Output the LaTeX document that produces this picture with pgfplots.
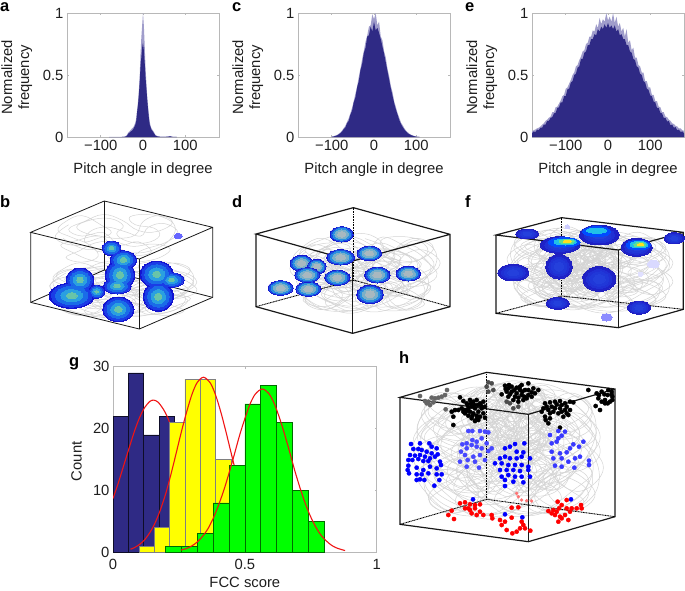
\documentclass[border=0pt]{standalone}
\usepackage{pgfplots}
\usepackage{pgfplotstable}
\usepackage{fontspec}
\setmainfont{Liberation Sans}
\pgfplotsset{compat=1.18}
\usetikzlibrary{plotmarks}
\definecolor{hdark}{HTML}{2F2A85}
\definecolor{hlight}{HTML}{A09DCB}
\definecolor{boxgray}{HTML}{B8B8B8}
\definecolor{txt}{HTML}{1E1E1E}
\definecolor{walkgray}{HTML}{D4D4D4}
\definecolor{redfit}{HTML}{F01414}
\definecolor{pureyellow}{HTML}{FFFF00}
\definecolor{puregreen}{HTML}{00FF00}
\definecolor{hotC}{HTML}{20C0E8}
\definecolor{hotG}{HTML}{60E090}
\definecolor{hotY}{HTML}{FFE020}
\newcommand\fs{\fontsize{14.8}{17}\selectfont}
\pgfplotsset{
  hist/.style={scale only axis,width=152pt,height=124pt,anchor=north west,
    xmin=-180,xmax=180,ymin=0,ymax=1,
    xtick={-100,0,100},xticklabels={−100,0,100},
    ytick={0,0.5,1},yticklabels={0,0.5,1},
    axis line style={boxgray,line width=0.9pt},
    tick style={boxgray,line width=0.6pt},tick align=inside,major tick length=2pt,
    tick label style={font=\fs,text=txt},label style={font=\fs,text=txt},
    xlabel={Pitch angle in degree},
    ylabel={Normalized\\frequency},
    ylabel style={align=center,at={(axis description cs:-0.33,0.48)},anchor=center,rotate=0},
    xlabel style={at={(axis description cs:0.5,-0.265)},anchor=center}},
  canvas/.style={hide axis,scale only axis,anchor=north west,clip=false,y dir=reverse},
  walkline/.style={walkgray,line width=0.5pt,smooth,tension=0.7,no markers},
  cube/.style={black!90,line width=#1,no markers},
  backedge/.style={black,line width=0.9pt,dash pattern=on 1pt off 0.6pt,no markers},
  dots/.style={only marks,mark=*,mark size=2.1pt}
}
% one spot, size given in zoomed pixels (3 per point)
\newcommand\spot[6]{\addplot[only marks,mark=*,mark size=0.3333pt,
  mark options={draw=#6,line width=0pt,fill=#6,xscale=#3,yscale=#4,rotate=#5}] coordinates {(#1,#2)};}
\newcommand\blob[5]{%
  \spot{#1}{#2}{#3}{#4}{#5}{bA}%
  \spot{#1}{#2}{0.9*#3}{0.9*#4}{#5}{bB}%
  \spot{#1}{#2}{0.76*#3}{0.76*#4}{#5}{bC}%
  \spot{#1}{#2}{0.58*#3}{0.58*#4}{#5}{bD}%
  \spot{#1}{#2}{0.36*#3}{0.36*#4}{#5}{bE}}
% all of panel b's lobes at one size, so that they merge
\newcommand\bLayer[2]{%
  \spot{240}{300}{#1*42}{#1*36}{0}{#2}%
  \spot{215}{347}{#1*68}{#1*38}{-5}{#2}%
  \spot{290}{335}{#1*24}{#1*20}{0}{#2}%
  \spot{355}{388}{#1*47}{#1*37}{0}{#2}%
  \spot{335}{205}{#1*28}{#1*22}{-20}{#2}%
  \spot{370}{240}{#1*40}{#1*28}{-25}{#2}%
  \spot{360}{285}{#1*44}{#1*45}{0}{#2}%
  \spot{352}{318}{#1*42}{#1*24}{0}{#2}%
  \spot{470}{283}{#1*50}{#1*40}{0}{#2}%
  \spot{515}{300}{#1*38}{#1*22}{0}{#2}%
  \spot{475}{350}{#1*45}{#1*44}{0}{#2}}
\newcommand\walk[6]{\addplot[walkline] table[x expr={#1+#3*(#5)},y expr={#2+#4*(#6)}]{\walkdata};}
\newcommand\lab[3]{\node[anchor=base west,inner sep=0pt,font=\fontsize{16.5}{18}\selectfont\bfseries] at (#1pt,-#2pt) {#3};}

\pgfplotstableread[row sep=\\]{u v\\
.10 .50\\.18 .62\\.30 .70\\.42 .62\\.40 .48\\.28 .42\\.20 .30\\.30 .18\\.45 .15\\.55 .28\\.50 .42\\.58 .55\\.72 .58\\.82 .46\\.78 .32\\.64 .26\\.60 .12\\.74 .08\\.88 .16\\.94 .32\\.90 .52\\.80 .68\\.66 .76\\.52 .72\\.44 .84\\.56 .92\\.72 .90\\.84 .82\\.90 .68\\.78 .60\\.62 .64\\.48 .56\\.34 .58\\.22 .72\\.12 .84\\.24 .92\\.36 .82\\.30 .62\\.16 .48\\.06 .36\\.12 .20\\.24 .10\\.38 .26\\.46 .40\\.36 .50\\.26 .56\\.30 .38\\.42 .30\\.56 .38\\.68 .46\\.74 .30\\.86 .24\\.96 .40\\.86 .58\\.70 .70\\.60 .84\\.46 .94\\.30 .88\\.18 .76\\.08 .62\\.20 .54\\.34 .46\\.50 .50\\.64 .44\\.70 .20\\.82 .10\\.92 .22\\.80 .38\\.66 .36\\.54 .18\\.40 .08\\.26 .20\\.14 .34\\.24 .46\\.40 .40\\.52 .62\\.66 .56\\.76 .74\\.62 .80\\.50 .66\\.38 .74\\.28 .64\\.12 .60\\.04 .46\\.14 .26\\
}\walkdata

\pgfplotstableread[row sep=\\]{x d l\\
-80 0 .001\\-50 0 .002\\-44 .001 .004\\-40 .005 .01\\-38 .01 .016\\-36 .02 .03\\-34 .03 .04\\-32 .035 .045\\-30 .04 .055\\-28 .05 .06\\-26 .05 .07\\-24 .06 .075\\-22 .07 .085\\-20 .085 .10\\-18 .10 .12\\-16 .13 .15\\-14 .20 .22\\-12 .25 .28\\-10 .33 .37\\-8 .43 .48\\-6 .56 .66\\-4 .64 .80\\-2 .72 .90\\0 .76 1\\2 .70 .90\\4 .60 .74\\6 .48 .56\\8 .39 .44\\10 .30 .33\\12 .22 .25\\14 .15 .18\\16 .10 .12\\18 .08 .09\\20 .06 .07\\22 .05 .06\\24 .04 .05\\26 .03 .04\\28 .02 .025\\30 .01 .015\\34 .005 .008\\40 .002 .003\\50 .001 .002\\60 .003 .004\\64 .006 .008\\70 .001 .002\\80 0 .001\\
}\ha

\pgfplotstableread[row sep=\\]{x d l\\
-100 .002 .004\\-96 .004 .006\\-92 .008 .011\\-88 .012 .016\\-84 .02 .025\\-80 .03 .036\\-76 .042 .05\\-72 .062 .07\\-68 .075 .09\\-64 .11 .12\\-60 .13 .15\\-56 .18 .19\\-52 .21 .235\\-48 .28 .29\\-44 .32 .35\\-40 .40 .41\\-36 .45 .485\\-32 .54 .555\\-28 .59 .63\\-24 .68 .695\\-20 .72 .77\\-16 .81 .82\\-12 .82 .89\\-8 .89 .90\\-4 .85 .99\\0 .93 .95\\4 .86 1\\8 .88 .90\\12 .84 .93\\16 .79 .81\\20 .73 .78\\24 .67 .69\\28 .60 .64\\32 .53 .55\\36 .46 .49\\40 .39 .41\\44 .33 .36\\48 .27 .285\\52 .22 .24\\56 .18 .19\\60 .135 .155\\64 .105 .115\\68 .08 .095\\72 .06 .07\\76 .045 .05\\80 .03 .038\\84 .022 .026\\88 .015 .018\\92 .01 .012\\96 .006 .008\\100 .002 .005\\104 .001 .003\\108 0 .001\\
}\hc

\pgfplotstableread[row sep=\\]{x d l\\
-180 .03 .045\\-176 .045 .055\\-172 .04 .06\\-168 .06 .07\\-164 .055 .075\\-160 .075 .085\\-156 .075 .10\\-152 .10 .11\\-148 .10 .13\\-144 .13 .14\\-140 .13 .155\\-136 .155 .165\\-132 .16 .20\\-128 .19 .20\\-124 .195 .24\\-120 .235 .245\\-116 .24 .27\\-112 .28 .295\\-108 .28 .33\\-104 .33 .34\\-100 .33 .39\\-96 .385 .40\\-92 .39 .43\\-88 .44 .46\\-84 .45 .50\\-80 .50 .52\\-76 .51 .57\\-72 .56 .58\\-68 .57 .62\\-64 .63 .65\\-60 .63 .69\\-56 .68 .70\\-52 .69 .75\\-48 .74 .76\\-44 .74 .81\\-40 .79 .81\\-36 .79 .86\\-32 .83 .85\\-28 .82 .91\\-24 .87 .88\\-20 .85 .96\\-16 .89 .91\\-12 .87 .95\\-8 .91 .93\\-4 .88 1\\0 .92 .94\\4 .88 .97\\8 .90 .93\\12 .87 1\\16 .90 .92\\20 .85 .97\\24 .87 .89\\28 .82 .92\\32 .83 .85\\36 .79 .88\\40 .79 .81\\44 .74 .87\\48 .74 .76\\52 .69 .78\\56 .68 .70\\60 .63 .72\\64 .62 .64\\68 .57 .64\\72 .56 .58\\76 .51 .57\\80 .50 .52\\84 .45 .52\\88 .44 .45\\92 .39 .45\\96 .38 .40\\100 .335 .40\\104 .33 .34\\108 .285 .34\\112 .28 .29\\116 .235 .29\\120 .235 .245\\124 .195 .24\\128 .19 .20\\132 .155 .20\\136 .155 .165\\140 .125 .16\\144 .13 .14\\148 .095 .13\\152 .10 .11\\156 .075 .105\\160 .08 .09\\164 .055 .085\\168 .06 .07\\172 .04 .07\\176 .045 .055\\180 .03 .05\\
}\he

\begin{document}
\begin{tikzpicture}
\path[use as bounding box] (0pt,0pt) rectangle (685pt,-590pt);

% histograms a, c, e
\begin{axis}[hist,at={(67pt,-13pt)}]
\addplot[fill=hlight,draw=none] table[x=x,y=l]{\ha}\closedcycle;
\addplot[fill=hdark,draw=none] table[x=x,y=d]{\ha}\closedcycle;
\end{axis}
\begin{axis}[hist,at={(298pt,-13pt)}]
\addplot[fill=hlight,draw=none] table[x=x,y=l]{\hc}\closedcycle;
\addplot[fill=hdark,draw=none] table[x=x,y=d]{\hc}\closedcycle;
\end{axis}
\begin{axis}[hist,at={(532pt,-13pt)}]
\addplot[fill=hlight,draw=none] table[x=x,y=l]{\he}\closedcycle;
\addplot[fill=hdark,draw=none] table[x=x,y=d]{\he}\closedcycle;
\end{axis}

% panel b
\definecolor{bA}{HTML}{1414D0}\definecolor{bB}{HTML}{1A3CE6}\definecolor{bC}{HTML}{1A6CE8}\definecolor{bD}{HTML}{2AA0E0}\definecolor{bE}{HTML}{68C4A8}
\begin{axis}[canvas,at={(0pt,-180pt)},width=685pt,height=170pt,xmin=0,xmax=2055,ymin=0,ymax=510]
\walk{150}{90}{400}{170}{\thisrow{u}}{\thisrow{v}}
\walk{130}{230}{480}{190}{\thisrow{u}}{\thisrow{v}}
\walk{130}{250}{480}{170}{1-\thisrow{u}}{\thisrow{v}}
\walk{150}{260}{440}{160}{\thisrow{v}}{\thisrow{u}}
\addplot[cube=0.8pt] coordinates {(92,157)(92,367)(418,447)(638,352)(638,142)(313,63)(92,157)(418,237)(638,142)};
\addplot[cube=0.8pt] coordinates {(418,237)(418,447)};
\addplot[cube=0.8pt] coordinates {(92,367)(313,270)(638,352)};
\addplot[cube=0.8pt] coordinates {(313,63)(313,270)};
\bLayer{1}{bA}
\bLayer{0.9}{bB}
\bLayer{0.72}{bC}
\bLayer{0.48}{bD}
\bLayer{0.24}{bE}
\spot{535}{168}{12}{8}{0}{blue!60}
\addplot[cube=0.8pt] coordinates {(418,237)(418,447)};
\end{axis}

% panel d
\definecolor{bA}{HTML}{1818D0}\definecolor{bB}{HTML}{1A50E0}\definecolor{bC}{HTML}{2A90E0}\definecolor{bD}{HTML}{7AB0C8}\definecolor{bE}{HTML}{A8B8C0}
\begin{axis}[canvas,at={(0pt,-180pt)},width=685pt,height=170pt,xmin=0,xmax=2055,ymin=0,ymax=510]
\walk{850}{150}{490}{250}{\thisrow{u}}{\thisrow{v}}
\blob{842}{324}{38}{22}{0}
\blob{925}{327}{38}{22}{0}
\blob{905}{250}{35}{24}{0}
\blob{950}{260}{28}{22}{0}
\blob{922}{285}{38}{22}{0}
\blob{1012}{293}{38}{23}{0}
\blob{1025}{163}{35}{23}{0}
\blob{1022}{232}{42}{23}{0}
\blob{1108}{220}{37}{22}{0}
\blob{1132}{285}{38}{24}{0}
\blob{1225}{281}{37}{22}{0}
\blob{1110}{343}{40}{28}{0}
\walk{860}{170}{470}{240}{1-\thisrow{u}}{\thisrow{v}}
\walk{870}{150}{450}{260}{\thisrow{v}}{\thisrow{u}}
\walk{880}{190}{420}{220}{\thisrow{u}}{1-\thisrow{v}}
\walk{950}{200}{280}{150}{1-\thisrow{v}}{\thisrow{u}}
\addplot[cube=1.2pt] coordinates {(768,162)(768,380)(1058,460)(1350,380)(1350,163)(1060,83)(768,162)(1058,243)(1350,163)};
\addplot[cube=1.2pt] coordinates {(1058,243)(1058,460)};
\addplot[backedge] coordinates {(1060,83)(1060,300)};
\addplot[backedge] coordinates {(768,380)(1060,300)(1350,380)};
\end{axis}

% panel f
\definecolor{bA}{HTML}{2020C0}\definecolor{bB}{HTML}{1E22C8}\definecolor{bC}{HTML}{2030D4}\definecolor{bD}{HTML}{2038D8}\definecolor{bE}{HTML}{2440DC}
\begin{axis}[canvas,at={(340pt,-180pt)},width=345pt,height=170pt,xmin=0,xmax=1035,ymin=0,ymax=510]
\blob{520}{278}{47}{25}{5}
\blob{562}{162}{35}{15}{8}
\blob{657}{260}{40}{37}{0}
\blob{778}{297}{50}{37}{-10}
\blob{653}{370}{35}{18}{-5}
\blob{897}{383}{35}{20}{0}
\spot{800}{412}{17}{11}{0}{blue!45}
\spot{940}{252}{18}{12}{0}{blue!15}
\spot{902}{283}{8}{6}{0}{blue!12}
\spot{682}{140}{7}{6}{0}{blue!20}
\walk{490}{150}{530}{250}{\thisrow{u}}{\thisrow{v}}
\walk{480}{130}{530}{270}{1-\thisrow{u}}{\thisrow{v}}
\walk{490}{140}{520}{260}{\thisrow{v}}{\thisrow{u}}
\walk{490}{160}{530}{240}{\thisrow{u}}{1-\thisrow{v}}
\walk{480}{140}{520}{270}{1-\thisrow{v}}{\thisrow{u}}
\walk{560}{140}{300}{240}{1-\thisrow{u}}{1-\thisrow{v}}
\walk{560}{130}{300}{240}{\thisrow{v}}{1-\thisrow{u}}
\walk{600}{170}{240}{170}{\thisrow{u}}{\thisrow{v}}
\walk{610}{180}{230}{170}{1-\thisrow{v}}{1-\thisrow{u}}
\walk{620}{150}{210}{200}{1-\thisrow{u}}{\thisrow{v}}
\blob{778}{165}{60}{30}{3}
\spot{770}{155}{42}{15}{3}{blue!70!cyan}
\spot{770}{152}{30}{8}{3}{hotC}
\blob{660}{195}{60}{25}{0}
\spot{672}{187}{48}{14}{0}{blue!70!cyan}
\spot{676}{186}{34}{9}{0}{hotC}
\spot{680}{185}{22}{6}{0}{hotG}
\spot{682}{184}{13}{4}{0}{hotY}
\blob{890}{202}{47}{27}{-8}
\spot{895}{195}{36}{15}{-15}{blue!70!cyan}
\spot{897}{194}{27}{10}{-15}{hotC}
\spot{899}{194}{18}{7}{-15}{hotG}
\spot{902}{194}{10}{4}{-15}{hotY}
\blob{1003}{175}{30}{17}{-8}
\addplot[cube=1.2pt] coordinates {(468,165)(468,400)(835,443)(1030,388)(1030,157)(665,113)(468,165)(835,210)(1030,157)};
\addplot[cube=1.2pt] coordinates {(835,210)(835,443)};
\addplot[backedge] coordinates {(665,113)(665,348)};
\addplot[backedge] coordinates {(468,400)(665,348)(1030,388)};
\end{axis}

% panel g
\begin{axis}[scale only axis,anchor=north west,at={(113pt,-366.7pt)},width=263.7pt,height=185.6pt,
  xmin=0,xmax=1,ymin=0,ymax=30,
  xtick={0,0.5,1},xticklabels={0,0.5,1},ytick={0,10,20,30},yticklabels={0,10,20,30},
  axis line style={boxgray,line width=0.9pt},
  tick style={boxgray,line width=0.6pt},tick align=inside,major tick length=2pt,
  tick label style={font=\fs,text=txt},label style={font=\fs,text=txt},
  xticklabel style={yshift=-3pt},
  xlabel={FCC score},ylabel={Count},
  xlabel style={at={(axis description cs:0.5,-0.162)},anchor=center},
  ylabel style={at={(axis description cs:-0.138,0.49)},anchor=center}]
\addplot[ybar interval,fill=hdark,draw=black!70!hdark,line width=0.5pt] coordinates {(0,22)(.0582,29)(.1165,19)(.175,22)(.2335,0)};
\addplot[redfit,line width=1.1pt,smooth] coordinates {(0,8.7)(.02,11.2)(.04,13.95)(.06,16.7)(.08,19.4)(.10,21.7)(.12,23.4)(.14,24.4)(.154,24.6)(.17,24.3)(.19,23.2)(.21,21.5)(.23,19.1)(.25,16.5)(.27,13.7)(.30,9.6)};
\addplot[ybar interval,fill=pureyellow,draw=black!50,line width=0.5pt] coordinates {(.0987,1)(.1557,4)(.2139,21)(.2722,28)(.3304,28)(.3886,15)(.4468,0)};
\addplot[redfit,line width=1.1pt,smooth] coordinates {(.066,.5)(.08,.73)(.10,1.25)(.12,2.04)(.14,3.2)(.16,4.8)(.18,6.9)(.20,9.5)(.22,12.65)(.24,16.1)(.26,19.6)(.28,22.8)(.30,25.6)(.32,27.5)(.344,28.3)(.37,27.3)(.39,25.3)(.41,22.5)(.43,19.2)(.45,15.7)(.47,12.3)};
\addplot[ybar interval,fill=puregreen,draw=black!30!green!60!black,line width=0.5pt] coordinates {(.1975,1)(.2595,1)(.319,3)(.3797,8)(.4405,14)(.5,24)(.5595,27)(.6203,21)(.681,10)(.7405,5)(.8013,0)};
\addplot[redfit,line width=1.1pt,smooth] coordinates {(.257,.35)(.28,.64)(.30,1.06)(.32,1.69)(.34,2.6)(.36,3.8)(.38,5.5)(.40,7.6)(.42,10)(.44,12.8)(.46,15.8)(.48,18.9)(.50,21.6)(.52,24)(.54,25.6)(.566,26.4)(.59,25.7)(.61,24.2)(.63,21.9)(.65,19.2)(.67,16.2)(.69,13.1)(.71,10.3)(.73,7.8)(.75,5.7)(.77,4)(.79,2.7)(.81,1.8)(.83,1.1)(.85,.67)(.88,.28)};
\end{axis}

% panel h
\begin{axis}[canvas,at={(385pt,-345pt)},width=300pt,height=245pt,xmin=0,xmax=900,ymin=0,ymax=735]
\walk{60}{100}{610}{440}{\thisrow{u}}{\thisrow{v}}
\walk{60}{120}{610}{420}{1-\thisrow{u}}{\thisrow{v}}
\walk{70}{100}{600}{440}{\thisrow{v}}{\thisrow{u}}
\walk{60}{110}{620}{430}{\thisrow{u}}{1-\thisrow{v}}
\walk{70}{90}{600}{440}{1-\thisrow{v}}{\thisrow{u}}
\walk{220}{90}{330}{380}{1-\thisrow{u}}{1-\thisrow{v}}
\walk{220}{100}{320}{370}{\thisrow{v}}{1-\thisrow{u}}
\walk{260}{100}{240}{260}{\thisrow{u}}{\thisrow{v}}
\walk{270}{120}{230}{260}{1-\thisrow{v}}{1-\thisrow{u}}
\walk{110}{130}{500}{340}{1-\thisrow{u}}{1-\thisrow{v}}
\addplot[dots,fill=black!60,draw=black!60] coordinates {(105,153)(125,175)(135,180)(145,172)(140,158)(150,160)(160,158)(170,155)(180,150)(186,135)(182,193)(120,168)(130,170)};
\addplot[dots,black] coordinates {(225,157)(235,168)(245,175)(255,165)(265,170)(275,165)(285,175)(295,170)(300,185)(290,190)(280,200)(270,190)(260,185)(250,190)(240,195)(230,190)(220,195)(210,195)(200,200)(205,215)(205,240)(240,205)(250,212)(260,220)(270,228)(280,225)(285,215)(275,212)(265,205)(255,200)(300,218)(295,205)(248,180)(258,175)(268,180)(278,180)(288,182)(245,198)(275,222)(235,200)(262,212)};
\addplot[dots,black!70] coordinates {(310,112)(320,115)(305,125)(325,135)(310,140)(375,175)(385,190)(400,185)(365,170)};
\addplot[dots,black] coordinates {(360,122)(370,130)(380,125)(395,128)(410,120)(430,115)(445,130)(460,135)(450,145)(440,155)(425,160)(410,150)(395,145)(380,140)(365,140)(350,148)(370,155)(385,165)(400,170)(415,165)(430,150)(420,135)(405,135)(390,155)(375,148)(388,135)(400,158)(412,140)(430,135)(440,142)(362,132)(372,120)(405,125)(418,155)};
\addplot[dots,black] coordinates {(480,175)(495,172)(510,170)(525,168)(540,175)(555,170)(565,172)(555,195)(550,210)(535,215)(520,205)(505,200)(490,195)(475,190)(470,200)(480,215)(490,235)(495,220)(510,190)(525,190)(540,195)(500,185)(525,248)(515,178)(530,180)(545,185)(485,185)(495,205)(530,200)(545,205)(482,225)};
\addplot[dots,black] coordinates {(610,135)(635,145)(650,140)(670,135)(680,140)(682,155)(675,170)(660,175)(640,160)(632,183)(645,195)(660,165)(668,150)(642,150)(658,148)(680,148)(682,165)(668,175)(650,170)};
\addplot[dots,fill=blue,draw=blue] coordinates {(78,297)(105,295)(133,295)(140,305)(155,310)(85,312)(100,312)(110,315)(125,320)(140,325)(158,328)(75,330)(90,332)(105,330)(120,335)(135,340)(150,335)(70,345)(82,345)(100,342)(115,348)(130,348)(165,350)(70,362)(68,375)(72,385)(95,368)(115,375)(135,365)(155,370)(168,360)(95,388)(110,388)(130,385)(155,388)(170,388)(95,405)(105,403)(118,405)(163,405)(148,422)};
\addplot[dots,fill=blue!72,draw=blue!72] coordinates {(250,258)(262,258)(285,258)(300,260)(310,262)(232,298)(245,295)(262,285)(275,290)(290,280)(305,295)(320,310)(228,320)(245,310)(260,300)(275,305)(290,310)(310,318)(240,330)(225,350)(248,345)(265,335)(285,330)(300,345)(270,350)(245,365)(282,368)};
\addplot[dots,fill=blue,draw=blue] coordinates {(390,297)(418,295)(360,310)(375,305)(395,320)(415,322)(345,340)(360,335)(375,340)(395,340)(410,335)(435,340)(330,355)(350,355)(370,360)(390,360)(410,360)(430,365)(345,375)(365,375)(385,375)(405,378)(430,375)(350,395)(370,390)(390,395)(410,395)(435,395)(360,405)(385,410)(415,412)(360,423)};
\addplot[dots,fill=blue!78,draw=blue!78] coordinates {(520,258)(540,260)(495,270)(520,280)(530,272)(500,295)(515,290)(565,298)(595,290)(500,320)(525,325)(545,322)(555,310)(582,305)(505,340)(530,340)(550,350)(570,340)(585,335)(612,347)(612,360)(510,362)(530,365)(568,368)};
\addplot[dots,fill=blue,draw=blue] coordinates {(264,463)(360,508)(412,517)(558,463)};
\addplot[dots,fill=red,draw=red] coordinates {(225,475)(240,472)(255,478)(270,480)(285,478)(240,490)(255,495)(270,490)(285,500)(295,510)(275,510)(260,505)(250,490)(200,497)(190,510)(207,522)(320,510)(322,520)(345,525)(360,530)(380,518)(350,540)(365,555)(382,565)(395,560)(405,550)(415,540)(410,530)(420,550)(436,557)(380,488)(400,487)};
\addplot[dots,fill=red!55,draw=red!55,mark size=1.5pt] coordinates {(395,445)(400,455)(410,465)(425,467)(440,468)};
\addplot[dots,fill=red,draw=red] coordinates {(490,498)(505,495)(518,470)(522,490)(530,480)(545,465)(545,490)(560,490)(575,490)(588,480)(590,490)(510,510)(525,515)(540,510)(555,500)(520,530)(550,525)(530,520)(515,500)(500,505)};
\addplot[cube=1.2pt] coordinates {(45,157)(45,538)(430,590)(690,515)(690,132)(305,82)(45,157)(430,208)(690,132)};
\addplot[cube=1.2pt] coordinates {(430,208)(430,590)};
\addplot[backedge] coordinates {(305,82)(305,463)};
\addplot[backedge] coordinates {(45,538)(305,463)(690,515)};
\end{axis}

\lab{0}{11.5}{a}\lab{232}{11.5}{c}\lab{465}{11.5}{e}
\lab{0}{207}{b}\lab{232}{207}{d}\lab{465}{207}{f}
\lab{69}{366}{g}\lab{399}{363}{h}
\end{tikzpicture}
\end{document}
